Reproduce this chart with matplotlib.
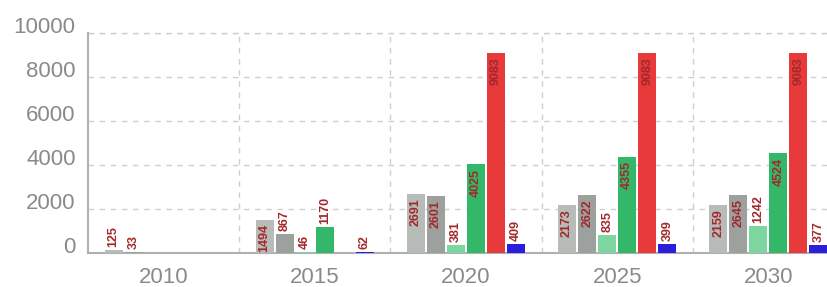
import numpy as np
import matplotlib
matplotlib.use('Agg')
import matplotlib.pyplot as plt

# data
years = ['2010', '2015', '2020', '2025', '2030']
s1 = [125, 1494, 2691, 2173, 2159]
s2 = [33, 867, 2601, 2622, 2645]
s3 = [0, 46, 381, 835, 1242]
s4 = [0, 1170, 4025, 4355, 4524]
s5 = [0, 0, 9083, 9083, 9083]
s6 = [0, 62, 409, 399, 377]
series = [s1, s2, s3, s4, s5, s6]
colors = ['#b8bcb8', '#9da19d', '#7dd6a0', '#33b869', '#e8393b', '#2b1fdc']

plt.rcParams['font.family'] = ['Liberation Sans', 'DejaVu Sans']

fig = plt.figure(figsize=(8.28, 2.87), dpi=100)
ax = fig.add_axes([0.1063, 0.1185, 0.913, 0.7666])

x = np.arange(len(years))
step = 0.1325
width = 0.119
label_color = '#a3282c'

for i, (vals, c) in enumerate(zip(series, colors)):
    pos = x + (i - 2.5) * step
    for p, v in zip(pos, vals):
        if v == 0:
            continue
        ax.bar(p, v, width=width, color=c, zorder=3)
        # ラベル（大きい値はバーの中、小さい値はバーの上）
        if v > 1400:
            ax.annotate(str(v), (p, v), xytext=(0, -3), textcoords='offset points',
                        rotation=90, ha='center', va='top', fontsize=9,
                        fontweight='bold', color=label_color, zorder=4)
        else:
            ax.annotate(str(v), (p, v), xytext=(0, 2), textcoords='offset points',
                        rotation=90, ha='center', va='bottom', fontsize=9,
                        fontweight='bold', color=label_color, zorder=4)

ax.set_xlim(-0.5, 4.5)
ax.set_ylim(0, 10000)
ax.set_yticks([0, 2000, 4000, 6000, 8000, 10000])
ax.set_xticks(x)
ax.set_xticklabels(years)
ax.set_xticks(x[:-1] + 0.5, minor=True)

for lab in ax.get_yticklabels():
    lab.set_va('baseline')

ax.tick_params(axis='both', which='both', length=0, labelsize=16, colors='#8a8a8a')
ax.tick_params(axis='y', pad=9)
ax.tick_params(axis='x', pad=10)

ax.grid(True, axis='y', which='major', linestyle=(0, (4, 4)), color='#cfcfcf', linewidth=1, zorder=0)
ax.grid(True, axis='x', which='minor', linestyle=(0, (4, 4)), color='#cfcfcf', linewidth=1, zorder=0)
ax.grid(False, axis='x', which='major')

for side in ['top', 'right']:
    ax.spines[side].set_visible(False)
for side in ['left', 'bottom']:
    ax.spines[side].set_color('#b0b0b0')
    ax.spines[side].set_linewidth(1.5)

# 上端の点線
ax.axhline(10000, linestyle=(0, (4, 4)), color='#cfcfcf', linewidth=1, clip_on=False, zorder=0)

plt.savefig('out.png', dpi=100)
